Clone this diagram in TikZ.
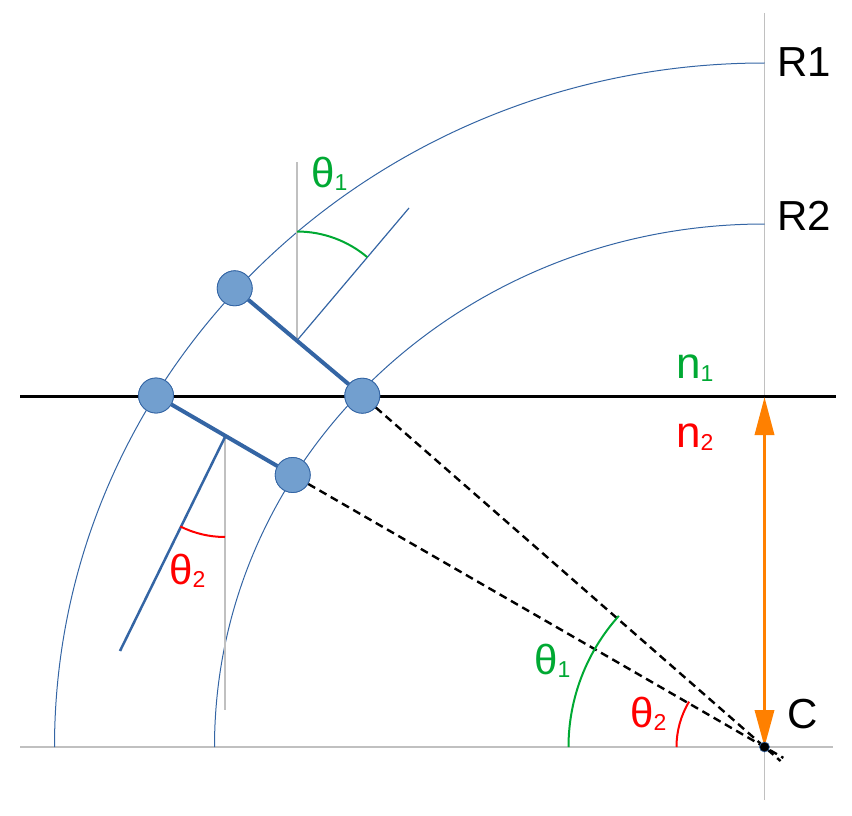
\documentclass[tikz,border=0pt]{standalone}
\usepackage{fontspec}
\setmainfont{Liberation Sans}
\usetikzlibrary{arrows.meta,calc}
\definecolor{lnblue}{HTML}{3465A4}
\definecolor{ballfill}{HTML}{729FCF}
\definecolor{guide}{HTML}{C0C0C0}
\definecolor{angg}{HTML}{00A933}
\definecolor{angr}{HTML}{FF0000}
\definecolor{arrow}{HTML}{FF8000}
\newcommand{\subdig}[1]{\raisebox{-3pt}{\fontsize{23pt}{23pt}\selectfont #1}}
\begin{document}
\begin{tikzpicture}[x=1pt,y=1pt,
  ball/.style={circle,minimum size=35pt,inner sep=0pt,fill=ballfill,draw=lnblue,line width=0.8pt},
  guideline/.style={guide,line width=1.5pt},
  radius arc/.style={lnblue,line width=1pt},
  link/.style={lnblue,line width=4pt},
  ray/.style={black,dash pattern=on 8pt off 5pt,line width=2.4pt},
  anglearc/.style={line width=2pt},
  lbl/.style={inner sep=0pt,anchor=base west,font=\fontsize{42pt}{42pt}\selectfont},
  lbln/.style={inner sep=0pt,anchor=base west,font=\fontsize{44pt}{44pt}\selectfont}]
\useasboundingbox (0,0) rectangle (852,-816);
% centre and guide lines
\coordinate (C) at (764.5,-747);
\coordinate (Vtop) at (764.5,-13);
\coordinate (Vbot) at (764.5,-800);
\coordinate (Hl) at (20,-747);
\coordinate (Hr) at (833,-747);
\draw[guideline] (Vtop) -- (Vbot);
\draw[guideline] (Hl) -- (Hr);
% radius arcs (R1, R2)
\draw[radius arc] (54.5,-747) arc[start angle=180,end angle=90,x radius=710pt,y radius=684pt];
\draw[radius arc] (214.5,-747) arc[start angle=180,end angle=90,x radius=550pt,y radius=523pt];
% interface line
\coordinate (Il) at (20,-396);
\coordinate (Ir) at (836,-396);
\draw[black,line width=3pt] (Il) -- (Ir);
% balls
\node[ball] (A) at (234.7,-288.3) {};
\node[ball] (B) at (156,-395.5) {};
\node[ball] (D) at (362.3,-395.7) {};
\node[ball] (E) at (292.7,-475) {};
% dashed rays to the centre
\coordinate (Dx) at ($(D)!1.04!(C)$);
\coordinate (Ex) at ($(E)!1.04!(C)$);
\draw[ray] (D) -- (Dx);
\draw[ray] (E) -- (Ex);
% upper normal and angle
\coordinate (F1) at (297,-340.5);
\coordinate (F1v) at (297,-162);
\coordinate (F1n) at (409,-208);
\draw[guideline] (F1) -- (F1v);
\draw[lnblue,line width=1.2pt] (F1) -- (F1n);
\draw[angg,anglearc] (297,-231.5) arc[start angle=90,end angle=49.8,radius=109pt];
% lower normal and angle
\coordinate (F2) at (225,-437);
\coordinate (F2v) at (225,-710);
\coordinate (F2n) at (120,-651);
\draw[guideline] (F2) -- (F2v);
\draw[lnblue,line width=2.5pt] (F2) -- (F2n);
\draw[angr,anglearc] (225,-537) arc[start angle=270,end angle=243.5,radius=100pt];
% links
\draw[link] (A) -- (D);
\draw[link] (B) -- (E);
\node[ball] at (A) {};
\node[ball] at (B) {};
\node[ball] at (D) {};
\node[ball] at (E) {};
% angles at the centre
\draw[angg,anglearc] (568.5,-747) arc[start angle=180,end angle=138,radius=196pt];
\draw[angr,anglearc] (676.5,-747) arc[start angle=180,end angle=149,radius=88pt];
% double arrow
\coordinate (Atop) at (764.5,-397);
\draw[arrow,line width=3.5pt,{Triangle[length=38pt,width=19pt]}-{Triangle[length=37pt,width=19pt]}] (Atop) -- (C);
\fill[black,draw=lnblue,line width=0.6pt] (C) circle[radius=5pt];
% labels
\node[lbl] (tR1) at (777,-77) {R1};
\node[lbl] (tR2) at (777,-230) {R2};
\node[lbl] (tC) at (787,-728) {C};
\node[lbln,text=angg] (tn1) at (676,-378) {n\subdig{1}};
\node[lbln,text=angr] (tn2) at (676,-447) {n\subdig{2}};
\node[lbl,text=angg] (tt1a) at (311,-187) {θ\subdig{1}};
\node[lbl,text=angr] (tt2a) at (169,-584) {θ\subdig{2}};
\node[lbl,text=angg] (tt1b) at (534,-674) {θ\subdig{1}};
\node[lbl,text=angr] (tt2b) at (630,-727) {θ\subdig{2}};
\end{tikzpicture}
\end{document}
